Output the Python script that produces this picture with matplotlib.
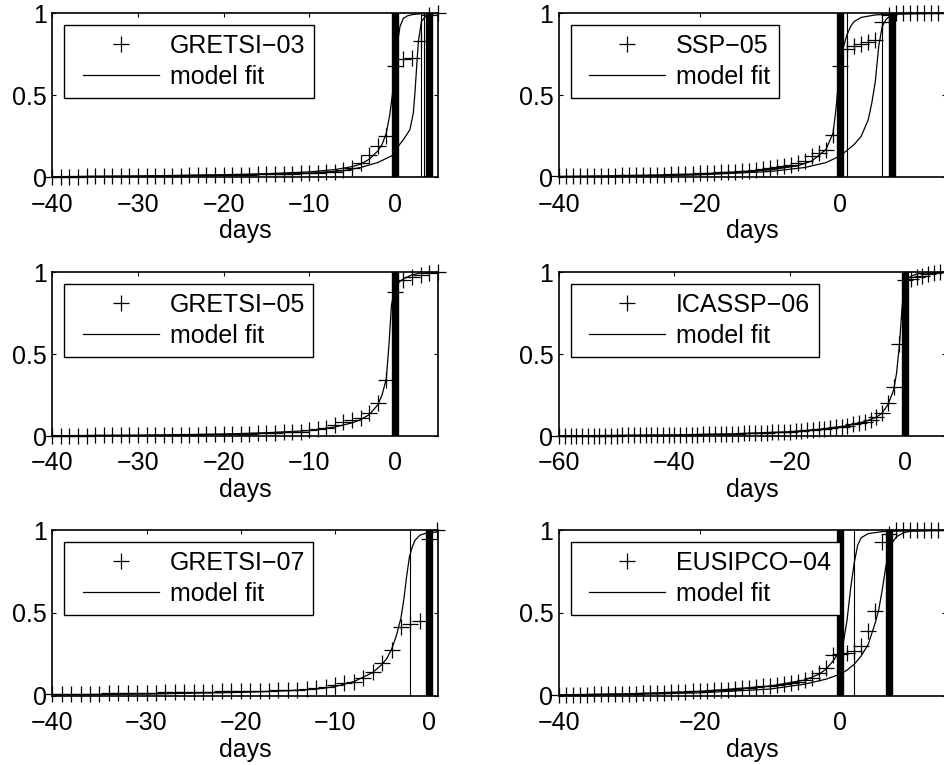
import numpy as np
import matplotlib
matplotlib.use("Agg")
import matplotlib.pyplot as plt
from matplotlib.lines import Line2D
from matplotlib.legend_handler import HandlerLine2D

plt.rcParams['font.family'] = ['Liberation Sans', 'DejaVu Sans']
plt.rcParams['font.size'] = 18
plt.rcParams['axes.unicode_minus'] = True

# ---------------------------------------------------------------- data
# cumulative fraction of submissions, one value per day (day 0 = deadline)

gretsi03_days = np.arange(-40, 6)
gretsi03_vals = [0.003, 0.003, 0.004, 0.004, 0.005, 0.005, 0.006, 0.006, 0.007, 0.007,
                 0.008, 0.008, 0.009, 0.009, 0.010, 0.010, 0.011, 0.012, 0.013, 0.013,
                 0.014, 0.015, 0.016, 0.017, 0.018, 0.019, 0.020, 0.022, 0.023, 0.025,
                 0.027, 0.029, 0.031, 0.035, 0.045, 0.055, 0.085, 0.135, 0.19, 0.25,
                 0.68, 0.72, 0.73, 0.83, 0.99, 1.0]
gretsi03_fit1_x = [-40, -30, -20, -15, -10, -7, -5, -4, -3, -2, -1.5, -1, -0.6, -0.3, 0, 0.3, 0.6, 1, 1.5, 2, 3, 5]
gretsi03_fit1_y = [0.004, 0.008, 0.016, 0.022, 0.033, 0.047, 0.065, 0.08, 0.11, 0.16, 0.2, 0.27,
                   0.38, 0.5, 0.66, 0.82, 0.92, 0.97, 0.985, 0.992, 0.997, 1.0]
gretsi03_fit2_x = [-40, -30, -20, -10, -6, -4, -2, -1, 0, 0.4, 1, 1.75, 2.15, 2.35, 2.55, 2.75, 3.1, 3.7, 4.5, 5]
gretsi03_fit2_y = [0.003, 0.006, 0.012, 0.025, 0.04, 0.06, 0.09, 0.115, 0.14, 0.19, 0.23, 0.29,
                   0.39, 0.52, 0.68, 0.83, 0.95, 0.99, 0.998, 1.0]
gretsi03_thin = [3.0, 3.4]
gretsi03_thick = [0.0, 4.0]

ssp05_days = np.arange(-40, 16)
ssp05_vals = [0.005, 0.006, 0.006, 0.007, 0.008, 0.008, 0.009, 0.010, 0.010, 0.011,
              0.012, 0.013, 0.014, 0.015, 0.016, 0.017, 0.018, 0.019, 0.020, 0.022,
              0.024, 0.026, 0.028, 0.030, 0.032, 0.035, 0.038, 0.041, 0.045, 0.050,
              0.055, 0.060, 0.068, 0.075, 0.085, 0.100, 0.130, 0.150, 0.165, 0.26,
              0.68, 0.78, 0.80, 0.815, 0.825, 0.84, 0.95, 0.99,
              1.0, 1.0, 1.0, 1.0, 1.0, 1.0, 1.0, 1.0]
ssp05_fit1_x = [-40, -30, -20, -10, -6, -4, -2, -1, -0.6, -0.3, 0, 0.5, 1, 1.5, 2, 3, 5, 8, 15]
ssp05_fit1_y = [0.005, 0.01, 0.02, 0.045, 0.07, 0.1, 0.17, 0.27, 0.41, 0.55, 0.67, 0.8, 0.87,
                0.92, 0.95, 0.975, 0.99, 0.997, 1.0]
ssp05_fit2_x = [-40, -30, -20, -10, -5, -2, 0, 1, 2, 3, 4, 4.5, 5, 5.5, 6, 6.5, 7, 8, 10, 15]
ssp05_fit2_y = [0.003, 0.007, 0.015, 0.035, 0.06, 0.09, 0.13, 0.165, 0.2, 0.25, 0.35, 0.45,
                0.58, 0.8, 0.92, 0.96, 0.98, 0.995, 0.999, 1.0]
ssp05_thin = [1.0, 6.0]
ssp05_thick = [0.0, 7.4]

gretsi05_days = np.arange(-40, 6)
gretsi05_vals = [0.002, 0.002, 0.003, 0.003, 0.003, 0.004, 0.004, 0.004, 0.005, 0.005,
                 0.005, 0.006, 0.006, 0.007, 0.007, 0.008, 0.008, 0.009, 0.010, 0.011,
                 0.012, 0.013, 0.014, 0.015, 0.016, 0.018, 0.020, 0.022, 0.024, 0.027,
                 0.035, 0.040, 0.050, 0.067, 0.088, 0.098, 0.110, 0.138, 0.20, 0.34,
                 0.88, 0.95, 0.97, 0.985, 0.995, 1.0]
gretsi05_fit_x = [-40, -30, -20, -15, -10, -7, -5, -4, -3, -2, -1.5, -1, -0.7, -0.4, 0, 0.5, 1, 2, 3, 5]
gretsi05_fit_y = [0.002, 0.005, 0.012, 0.02, 0.033, 0.055, 0.08, 0.1, 0.13, 0.19, 0.25, 0.35,
                  0.55, 0.8, 0.9, 0.94, 0.96, 0.985, 0.995, 1.0]
gretsi05_thin = []
gretsi05_thick = [0.0]

icassp06_days = np.arange(-60, 8)
icassp06_vals = [0.001, 0.001, 0.001, 0.002, 0.002, 0.002, 0.002, 0.003, 0.003, 0.003,
                 0.003, 0.004, 0.004, 0.004, 0.005, 0.005, 0.005, 0.006, 0.006, 0.007,
                 0.007, 0.008, 0.008, 0.009, 0.009, 0.010, 0.010, 0.011, 0.012, 0.013,
                 0.014, 0.015, 0.016, 0.017, 0.018, 0.019, 0.020, 0.022, 0.023, 0.025,
                 0.027, 0.029, 0.031, 0.034, 0.037, 0.040, 0.044, 0.048, 0.053, 0.058,
                 0.064, 0.071, 0.079, 0.088, 0.100, 0.115, 0.14, 0.20, 0.30, 0.56,
                 0.95, 0.96, 0.97, 0.98, 0.99, 0.995, 1.0, 1.0]
icassp06_fit_x = [-60, -40, -30, -20, -15, -10, -7, -5, -4, -3, -2, -1.5, -1, -0.6, -0.3, 0, 0.5, 1, 2, 4, 7]
icassp06_fit_y = [0.001, 0.007, 0.013, 0.026, 0.04, 0.063, 0.088, 0.115, 0.14, 0.19, 0.28,
                  0.38, 0.55, 0.75, 0.88, 0.93, 0.96, 0.975, 0.99, 0.997, 1.0]
icassp06_thin = []
icassp06_thick = [0.0]

gretsi07_days = list(range(-40, 1)) + [0.8]
gretsi07_vals = [0.008, 0.009, 0.010, 0.011, 0.012, 0.013, 0.014, 0.015, 0.016, 0.017,
                 0.018, 0.019, 0.020, 0.021, 0.022, 0.023, 0.024, 0.025, 0.026, 0.027,
                 0.028, 0.029, 0.030, 0.031, 0.032, 0.033, 0.035, 0.040, 0.045, 0.050,
                 0.065, 0.075, 0.085, 0.105, 0.145, 0.195, 0.276, 0.415, 0.435, 0.45,
                 0.95, 1.0]
gretsi07_fit_x = [-40, -30, -20, -15, -12, -10, -8, -6, -5, -4.5, -4, -3.5, -3, -2.7, -2.4,
                  -2.1, -1.8, -1.5, -1, -0.5, 0, 0.8]
gretsi07_fit_y = [0.005, 0.01, 0.02, 0.03, 0.04, 0.055, 0.085, 0.14, 0.19, 0.225, 0.28, 0.36,
                  0.47, 0.58, 0.72, 0.84, 0.9, 0.94, 0.97, 0.98, 0.985, 0.99]
gretsi07_thin = [-2.0]
gretsi07_thick = [0.0]

eusipco04_days = np.arange(-40, 16)
eusipco04_vals = [0.005, 0.005, 0.006, 0.006, 0.007, 0.008, 0.008, 0.009, 0.010, 0.011,
                  0.012, 0.013, 0.014, 0.016, 0.017, 0.019, 0.020, 0.022, 0.024, 0.026,
                  0.028, 0.030, 0.032, 0.034, 0.036, 0.040, 0.044, 0.048, 0.052, 0.056,
                  0.060, 0.065, 0.070, 0.075, 0.085, 0.095, 0.110, 0.135, 0.165, 0.245,
                  0.25, 0.26, 0.27, 0.30, 0.39, 0.51, 0.93, 0.98,
                  1.0, 1.0, 1.0, 1.0, 1.0, 1.0, 1.0, 1.0]
eusipco04_fit1_x = [-40, -30, -20, -10, -5, -3, -2, -1, 0, 0.5, 1, 1.5, 2, 2.5, 3, 4, 6, 10, 15]
eusipco04_fit1_y = [0.005, 0.012, 0.026, 0.058, 0.095, 0.13, 0.16, 0.21, 0.27, 0.33, 0.46,
                    0.65, 0.8, 0.91, 0.955, 0.98, 0.992, 0.998, 1.0]
eusipco04_fit2_x = [-40, -30, -20, -10, -5, -2, 0, 1, 2, 3, 4, 5, 5.5, 6, 6.5, 7, 7.5, 8, 9, 10, 15]
eusipco04_fit2_y = [0.003, 0.008, 0.017, 0.04, 0.07, 0.1, 0.13, 0.155, 0.19, 0.24, 0.31, 0.44,
                    0.52, 0.64, 0.78, 0.87, 0.93, 0.96, 0.985, 0.995, 1.0]
eusipco04_thin = [2.0]
eusipco04_thick = [0.0, 7.0]

y_ticks = [0, 0.5, 1]
y_tick_labels = ['0', '0.5', '1']

# ---------------------------------------------------------------- layout
W, H = 944, 765
fig = plt.figure(figsize=(W / 100, H / 100), dpi=100)
fig.patch.set_facecolor('white')

col_left = (52.3, 385.4)
col_right = (559.0, 386.5)
rows = [(13.3, 177.3), (272.3, 436.0), (530.3, 695.7)]

panels = [
    dict(name='GRETSI\u221203', col=col_left, row=rows[0], xlim=(-40, 5),
         xticks=[-40, -30, -20, -10, 0], days=gretsi03_days, vals=gretsi03_vals,
         fits=[(gretsi03_fit1_x, gretsi03_fit1_y), (gretsi03_fit2_x, gretsi03_fit2_y)],
         thin=gretsi03_thin, thick=gretsi03_thick),
    dict(name='SSP\u221205', col=col_right, row=rows[0], xlim=(-40, 15),
         xticks=[-40, -20, 0], days=ssp05_days, vals=ssp05_vals,
         fits=[(ssp05_fit1_x, ssp05_fit1_y), (ssp05_fit2_x, ssp05_fit2_y)],
         thin=ssp05_thin, thick=ssp05_thick),
    dict(name='GRETSI\u221205', col=col_left, row=rows[1], xlim=(-40, 5),
         xticks=[-40, -30, -20, -10, 0], days=gretsi05_days, vals=gretsi05_vals,
         fits=[(gretsi05_fit_x, gretsi05_fit_y)],
         thin=gretsi05_thin, thick=gretsi05_thick),
    dict(name='ICASSP\u221206', col=col_right, row=rows[1], xlim=(-60, 7),
         xticks=[-60, -40, -20, 0], days=icassp06_days, vals=icassp06_vals,
         fits=[(icassp06_fit_x, icassp06_fit_y)],
         thin=icassp06_thin, thick=icassp06_thick),
    dict(name='GRETSI\u221207', col=col_left, row=rows[2], xlim=(-40, 0.9),
         xticks=[-40, -30, -20, -10, 0], days=gretsi07_days, vals=gretsi07_vals,
         fits=[(gretsi07_fit_x, gretsi07_fit_y)],
         thin=gretsi07_thin, thick=gretsi07_thick),
    dict(name='EUSIPCO\u221204', col=col_right, row=rows[2], xlim=(-40, 15),
         xticks=[-40, -20, 0], days=eusipco04_days, vals=eusipco04_vals,
         fits=[(eusipco04_fit1_x, eusipco04_fit1_y), (eusipco04_fit2_x, eusipco04_fit2_y)],
         thin=eusipco04_thin, thick=eusipco04_thick),
]

MS = 11
MEW = 0.9
FIT_LW = 0.9

for p in panels:
    x0, w = p['col']
    top, bottom = p['row']
    h = bottom - top
    ax = fig.add_axes([x0 / W, 1 - bottom / H, w / W, h / H])

    for xv in p['thin']:
        ax.axvline(xv, color='k', lw=0.8, zorder=2)
    for xv in p['thick']:
        ax.axvline(xv, color='k', lw=5.3, zorder=2)
    for fx, fy in p['fits']:
        ax.plot(fx, fy, color='k', lw=FIT_LW, zorder=3)
    ax.plot(p['days'], p['vals'], ls='none', marker='+', color='k',
            ms=MS, mew=MEW, clip_on=False, zorder=4)

    ax.set_xlim(*p['xlim'])
    ax.set_ylim(0, 1)
    ax.set_xticks(p['xticks'])
    ax.set_yticks(y_ticks)
    ax.set_yticklabels(y_tick_labels)
    ax.tick_params(direction='in', top=True, right=True, length=2.6, width=0.8,
                   labelsize=18)
    ax.tick_params(axis='x', pad=11)
    ax.tick_params(axis='y', pad=4)
    for s in ax.spines.values():
        s.set_linewidth(1.2)
    ax.set_xlabel('days', fontsize=18, labelpad=2)

    h_data = Line2D([], [], ls='none', marker='+', color='k', ms=MS, mew=MEW)
    h_fit = Line2D([], [], color='k', lw=FIT_LW)
    leg = ax.legend([h_data, h_fit], [p['name'], 'model fit'],
                    loc='upper left', bbox_to_anchor=(11.7 / w, 1 - 12.0 / h),
                    borderaxespad=0, handlelength=3.44, handletextpad=0.44,
                    borderpad=0.34, labelspacing=0.29, numpoints=1,
                    fancybox=False, framealpha=1, edgecolor='k', fontsize=18,
                    handler_map={h_data: HandlerLine2D(xpad=0.4),
                                 h_fit: HandlerLine2D(xpad=0.4)})
    leg.get_frame().set_linewidth(1.0)
    leg.set_zorder(10)

fig.savefig('out.png', dpi=100, facecolor='white')
